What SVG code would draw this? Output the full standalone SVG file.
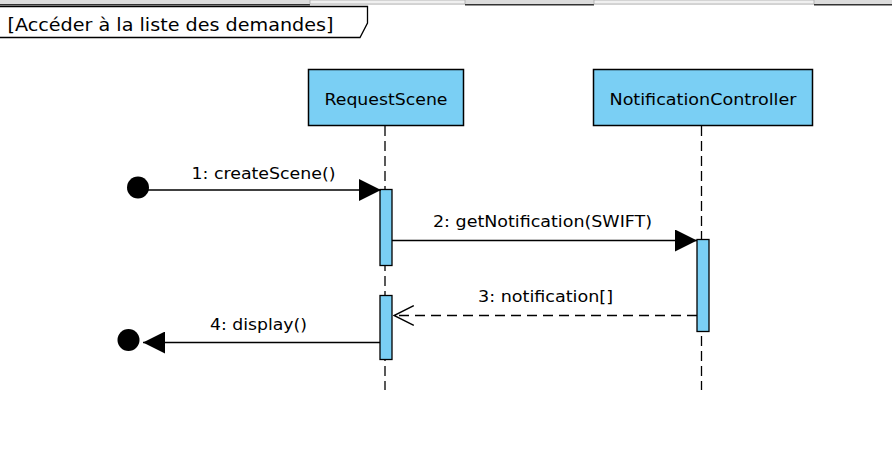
<svg xmlns="http://www.w3.org/2000/svg" width="892" height="476" viewBox="0 0 892 476">
<style>
text{font-family:"DejaVu Sans","Liberation Sans",sans-serif;fill:#000}
.lbl{font-size:16px;text-anchor:middle}
.box{fill:#7acff4;stroke:#000;stroke-width:1.5}
.act{fill:#7acff4;stroke:#000;stroke-width:1.3}
.life{stroke:#000;stroke-width:1.3;stroke-dasharray:10,5;fill:none}
.msg{stroke:#000;stroke-width:1.3;fill:none}
.ret{stroke:#000;stroke-width:1.3;fill:none;stroke-dasharray:10,6}
</style>
<defs>
<marker id="filled" markerUnits="userSpaceOnUse" markerWidth="22" markerHeight="22" viewBox="0 0 20 20" refX="20" refY="10" orient="auto">
<path d="M0,0 L20,10 L0,20 Z" fill="#000"/>
</marker>
<marker id="open" markerUnits="userSpaceOnUse" markerWidth="22" markerHeight="22" viewBox="0 0 20 20" refX="19" refY="10" orient="auto">
<path d="M1,1 L19,10 L1,19" fill="none" stroke="#000" stroke-width="1.3"/>
</marker>
</defs>
<rect width="892" height="476" fill="#fff"/>
<g id="topbar">
<rect x="0" y="0" width="892" height="4.5" fill="#dcdcdc"/>
<rect x="0" y="4" width="310" height="1.5" fill="#333"/>
<rect x="310" y="0" width="155" height="4" fill="#f0f0f0" stroke="#aaa" stroke-width="0.8"/>
<rect x="465" y="4" width="129" height="1.5" fill="#333"/>
<rect x="594" y="0" width="220" height="4" fill="#f0f0f0" stroke="#aaa" stroke-width="0.8"/>
<rect x="814" y="4" width="78" height="1.5" fill="#333"/>
</g>
<g id="frame">
<path d="M0,6.5 H367.5 V23 L360,37.5 H0" fill="#fff" stroke="#000" stroke-width="1.3"/>
<text x="7.5" y="30.5" font-size="18" textLength="326" lengthAdjust="spacingAndGlyphs">[Accéder à la liste des demandes]</text>
</g>
<g id="RequestScene">
<line class="life" x1="385" y1="126" x2="385" y2="390"/>
<rect class="box" x="308.5" y="69.5" width="155" height="56"/>
<text x="386" y="105" font-size="16" text-anchor="middle" textLength="123" lengthAdjust="spacingAndGlyphs">RequestScene</text>
<rect class="act" x="380" y="189.5" width="12" height="76"/>
<rect class="act" x="380" y="295.5" width="12" height="64"/>
</g>
<g id="NotificationController">
<line class="life" x1="701.5" y1="126" x2="701.5" y2="390"/>
<rect class="box" x="593.5" y="69.5" width="219" height="56"/>
<text x="703" y="105" font-size="16" text-anchor="middle" textLength="187" lengthAdjust="spacingAndGlyphs">NotificationController</text>
<rect class="act" x="697" y="239.5" width="12" height="92"/>
</g>
<g id="start">
<circle cx="138" cy="187.5" r="11" fill="#000"/>
</g>
<g id="end">
<circle cx="128.5" cy="340" r="11" fill="#000"/>
</g>
<g id="connectors">
<line class="msg" x1="148" y1="190" x2="381" y2="190" marker-end="url(#filled)"/>
<text class="lbl" x="263.5" y="179" textLength="144" lengthAdjust="spacingAndGlyphs">1: createScene()</text>
<line class="msg" x1="392" y1="240.5" x2="697" y2="240.5" marker-end="url(#filled)"/>
<text class="lbl" x="542.5" y="227" textLength="219" lengthAdjust="spacingAndGlyphs">2: getNotification(SWIFT)</text>
<line class="ret" x1="697" y1="315.5" x2="394" y2="315.5" marker-end="url(#open)"/>
<text class="lbl" x="545.5" y="302" textLength="135" lengthAdjust="spacingAndGlyphs">3: notification[]</text>
<line class="msg" x1="380" y1="342.5" x2="143" y2="342.5" marker-end="url(#filled)"/>
<text class="lbl" x="258.5" y="330" textLength="97" lengthAdjust="spacingAndGlyphs">4: display()</text>
</g>
</svg>
